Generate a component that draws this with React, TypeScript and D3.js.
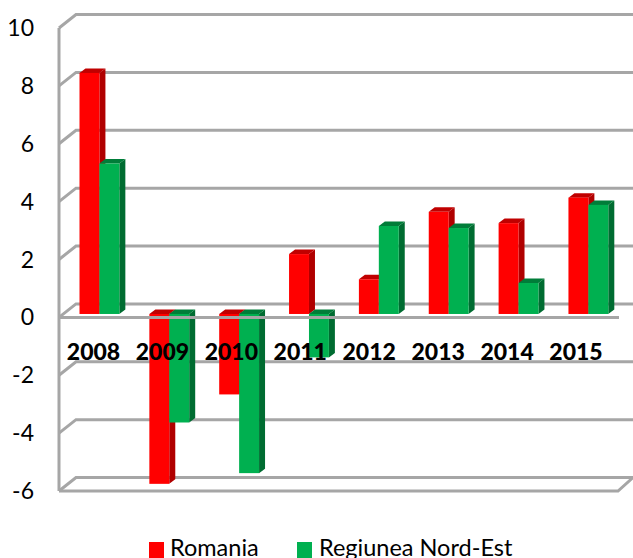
import React from 'react';
import * as d3 from 'd3';

const years = ['2008', '2009', '2010', '2011', '2012', '2013', '2014', '2015'];
const romania = [8.33, -5.87, -2.78, 2.07, 1.2, 3.53, 3.14, 4.02];
const nordEst = [5.2, -3.75, -5.5, -1.5, 3.04, 2.97, 1.07, 3.77];
const yTicks = [10, 8, 6, 4, 2, 0, -2, -4, -6];

const FONT = 'Lato, "Open Sans", sans-serif';
const GRID = '#a6a6a6';

const series = [
  { name: 'Romania', values: romania, front: '#ff0000', side: '#b00000', top: '#c00000' },
  { name: 'Regiunea Nord-Est', values: nordEst, front: '#00b050', side: '#006c31', top: '#007d39' },
];

// front plane of the fake 3D box
const y = d3.scaleLinear().domain([-6, 10]).range([491, 28]);
const x = d3.scaleBand().domain(years).range([64.5, 623.3]).paddingInner(30 / 69.85).paddingOuter(15 / 69.85);
const inner = d3.scaleBand().domain(series.map(s => s.name)).range([0, x.bandwidth()]);
// the labels run on a slightly tighter step than the bars
const labelX = d3.scalePoint().domain(years).range([93.5, 576]);

const wallDx = 17;
const wallDy = -13.5;
const barDx = 6;
const barDy = -4.5;
const barZeroShift = -3.4; // bars stand slightly behind the front edge
const frontRight = 618;
const backRight = 633;

const App = () => {
  const zero = y(0) + barZeroShift;

  return (
    <svg
      width={633}
      height={558}
      style={{ position: 'absolute', left: 0, top: 0, background: 'white' }}
      fontFamily={FONT}
    >
      {/* gridlines + wall */}
      <g fill="none" stroke={GRID} strokeWidth={3}>
        {yTicks.map(t => (
          <path
            key={t}
            d={d3.line()([
              [59, y(t)],
              [59 + wallDx, y(t) + wallDy],
              [backRight, y(t) + wallDy],
            ])!}
          />
        ))}
        <line x1={59} x2={59} y1={y(10)} y2={y(-6)} />
        <path
          d={d3.line()([
            [59, y(-6)],
            [frontRight, y(-6)],
            [backRight, y(-6) + wallDy],
          ])!}
        />
      </g>

      {/* bars */}
      {years.map((yr, i) => (
        <g key={yr}>
          {series.map(s => {
            const v = s.values[i];
            const x0 = x(yr)! + inner(s.name)!;
            const w = inner.bandwidth();
            const yTop = v >= 0 ? zero - (y(0) - y(v)) : zero;
            const yBot = v >= 0 ? zero : zero + (y(v) - y(0));
            return (
              <g key={s.name}>
                <path
                  fill={s.side}
                  d={d3.line()([
                    [x0 + w, yTop],
                    [x0 + w + barDx, yTop + barDy],
                    [x0 + w + barDx, yBot + barDy],
                    [x0 + w, yBot],
                  ])!}
                />
                <path
                  fill={s.top}
                  d={d3.line()([
                    [x0, yTop],
                    [x0 + barDx, yTop + barDy],
                    [x0 + w + barDx, yTop + barDy],
                    [x0 + w, yTop],
                  ])!}
                />
                <rect x={x0} y={yTop} width={w} height={yBot - yTop} fill={s.front} />
              </g>
            );
          })}
        </g>
      ))}

      {/* front edge of the zero plane sits over the bars that go down */}
      <line x1={59} x2={frontRight + 1} y1={y(0)} y2={y(0)} stroke={GRID} strokeWidth={3} />

      {/* y labels */}
      {yTicks.map(t => (
        <text key={t} x={34} y={y(t) + 8} textAnchor="end" fontSize={23} fill="#000">
          {t}
        </text>
      ))}

      {/* category labels */}
      {years.map(yr => (
        <text
          key={yr}
          x={labelX(yr)!}
          y={360}
          textAnchor="middle"
          fontSize={23}
          fontWeight={900}
          fill="#000"
        >
          {yr}
        </text>
      ))}

      {/* legend */}
      <rect x={149} y={542} width={15} height={16} fill={series[0].front} />
      <text x={170} y={556} fontSize={23.5} fill="#000">{series[0].name}</text>
      <rect x={297} y={542} width={15} height={16} fill={series[1].front} />
      <text x={319} y={556} fontSize={23.5} fill="#000">{series[1].name}</text>
    </svg>
  );
};

export default App;
